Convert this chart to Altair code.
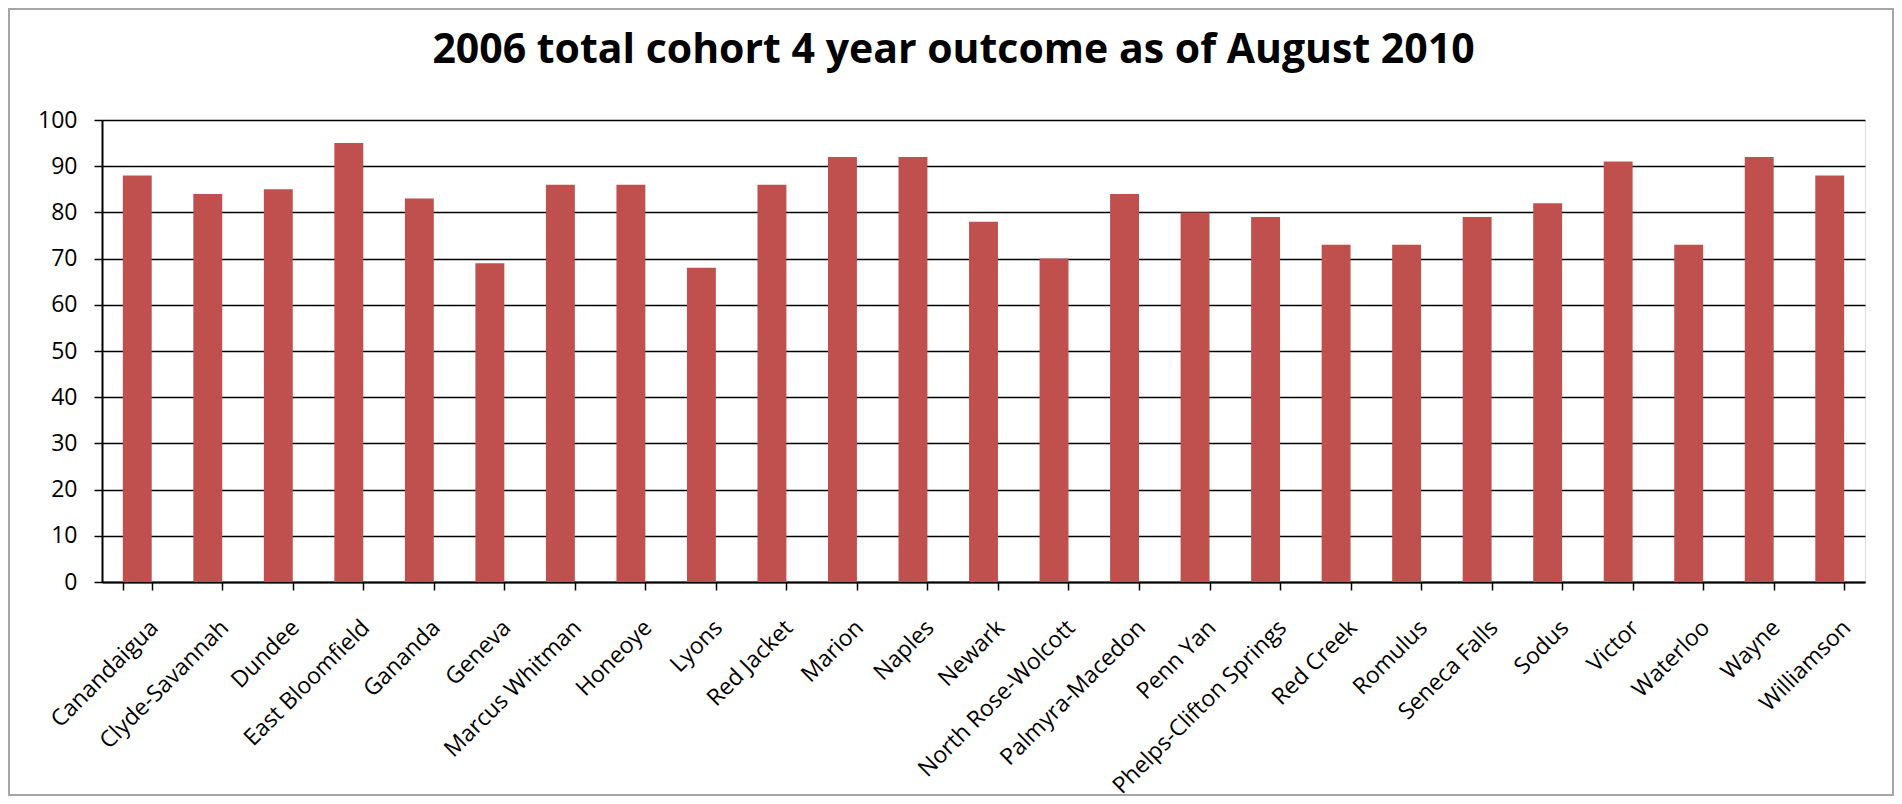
import altair as alt
import pandas as pd

districts = [
    "Canandaigua", "Clyde-Savannah", "Dundee", "East Bloomfield", "Gananda",
    "Geneva", "Marcus Whitman", "Honeoye", "Lyons", "Red Jacket", "Marion",
    "Naples", "Newark", "North Rose-Wolcott", "Palmyra-Macedon", "Penn Yan",
    "Phelps-Clifton Springs", "Red Creek", "Romulus", "Seneca Falls", "Sodus",
    "Victor", "Waterloo", "Wayne", "Williamson",
]
outcome = [88, 84, 85, 95, 83, 69, 86, 86, 68, 86, 92, 92, 78, 70, 84, 80,
           79, 73, 73, 79, 82, 91, 73, 92, 88]
y_ticks = [0, 10, 20, 30, 40, 50, 60, 70, 80, 90, 100]

df = pd.DataFrame({"district": districts, "value": outcome})

FONT = "Open Sans"
W, H = 1763, 462
PAD_L, PAD_T, PAD_R, PAD_B = 94, 112, 29, 214

bars = alt.Chart(df).mark_bar(color="#C0504D").encode(
    x=alt.X(
        "district:N",
        sort=districts,
        title=None,
        scale=alt.Scale(paddingInner=0.59, paddingOuter=0.295),
        axis=alt.Axis(
            labelAngle=-45,
            labelAlign="right",
            labelBaseline="top",
            labelFont=FONT,
            labelFontSize=23,
            labelColor="#000000",
            labelPadding=26,
            labelOffset=9,
            labelLimit=0,
            tickBand="extent",
            tickSize=8,
            tickColor="#000000",
            tickWidth=1.5,
            domainColor="#000000",
            domainWidth=2,
            grid=False,
            labelOverlap=False,
        ),
    ),
    y=alt.Y(
        "value:Q",
        title=None,
        scale=alt.Scale(domain=[0, 100], nice=False),
        axis=alt.Axis(
            values=y_ticks,
            labelFont=FONT,
            labelFontSize=23,
            labelColor="#000000",
            labelPadding=17,
            tickSize=8,
            tickColor="#000000",
            tickWidth=1.5,
            domainColor="#000000",
            domainWidth=2,
            grid=True,
            gridColor="#000000",
            gridWidth=1.5,
        ),
    ),
)

frame = alt.Chart(alt.Data(values=[{"k": 1}])).mark_rect(
    fill=None, stroke="#a6a6a6", strokeWidth=2
).encode(
    x=alt.value(-PAD_L + 1),
    x2=alt.value(W + PAD_R - 1),
    y=alt.value(-PAD_T + 1),
    y2=alt.value(H + PAD_B - 1),
)

chart = alt.layer(frame, bars).properties(
    width=W,
    height=H,
    title=alt.TitleParams(
        "2006 total cohort 4 year outcome as of August 2010",
        font=FONT,
        fontSize=41,
        fontWeight="bold",
        color="#000000",
        anchor="middle",
        baseline="alphabetic",
        offset=0,
        dy=96,
        dx=-30,
    ),
    padding={"left": PAD_L, "top": PAD_T, "right": PAD_R, "bottom": PAD_B},
    autosize=alt.AutoSizeParams(type="none"),
).configure_view(stroke=None).configure(background="white")

chart.save("out.html", embed_options={"renderer": "svg", "actions": False})
